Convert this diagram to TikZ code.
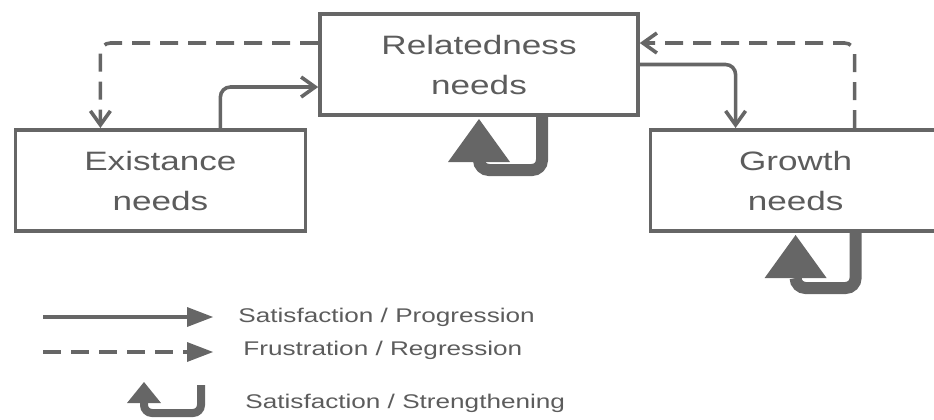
\documentclass[tikz,border=0pt]{standalone}
\usepackage{fontspec}
\setmainfont{Liberation Sans}[FakeStretch=1.32]
\usepackage{tikz}
\usetikzlibrary{arrows.meta, positioning}
\definecolor{ink}{HTML}{5C5C5C}
\definecolor{wire}{HTML}{666666}
\tikzset{
  box/.style     ={draw=wire, line width=1.8pt, minimum width=145pt,
                   minimum height=50.7pt, align=center, text=ink,
                   font=\fontsize{13.3}{20}\selectfont, inner sep=0pt},
  flow/.style    ={-{Straight Barb[length=7pt,width=10pt,line width=1.8pt]},
                   line width=1.8pt, draw=wire, rounded corners=5pt},
  flowd/.style   ={flow, dash pattern=on 9pt off 5pt},
  loopflow/.style={-{Triangle[length=21.5pt,width=31pt,line width=0pt]},
                   line width=6pt, draw=wire, rounded corners=5pt},
  legflow/.style ={-{Triangle[length=13pt,width=10pt,line width=0pt]},
                   line width=1.8pt, draw=wire},
  legflowd/.style={legflow, dash pattern=on 9pt off 5pt},
  legloop/.style ={-{Triangle[length=10.5pt,width=17pt,line width=0pt]},
                   line width=4pt, draw=wire, rounded corners=4pt},
  legtext/.style ={font=\fontsize{9.9}{12}\selectfont, text=ink,
                   inner sep=0pt, anchor=west}
}

\begin{document}
\begin{tikzpicture}[x=0.5pt, y=-0.5pt, node distance=5.5pt and 5.5pt]

  \useasboundingbox (0,0) rectangle (934,419);
  \clip (0,0) rectangle (934,419);

  % the three needs
  \node[box, minimum width=159pt] (rel) at (479,64.5) {Relatedness\\needs};
  \node[box, below left=of rel]                    (exist)  {Existance\\needs};
  \node[box, below right=5.5pt and 4.5pt of rel]   (growth) {Growth\\needs};

  \draw[flowd] ([yshift=10.75pt]rel.west)    -| ([xshift=-30pt]exist.north);
  \draw[flow]  ([xshift=30pt]exist.north)    |- ([yshift=-11.25pt]rel.west);
  \draw[flow]  (rel.east)                    -| ([xshift=-30pt]growth.north);
  \draw[flowd] ([xshift=29.5pt]growth.north) |- ([yshift=10.75pt]rel.east);

  \draw[loopflow] ([xshift=31.5pt]rel.south) -- ++(0,53)
                  -| ([yshift=-1pt]rel.south);
  \draw[loopflow] ([xshift=30pt]growth.south) -- ++(0,55)
                  -| ([yshift=-1pt]growth.south);

  % legend
  \coordinate (s1) at (43,317);
  \coordinate (e1) at (213,317);
  \coordinate (s2) at (43,352);
  \coordinate (e2) at (213,352);
  \coordinate (s3) at (201,385);
  \coordinate (e3) at (144,382);

  \node[legtext] (t1) at (238,317) {Satisfaction / Progression};
  \node[legtext] (t2) at (243,350) {Frustration / Regression};
  \node[legtext] (t3) at (245,403) {Satisfaction / Strengthening};

  \draw[legflow]  (s1) -- (e1);
  \draw[legflowd] (s2) -- (e2);
  \draw[legloop]  (s3) -- ++(0,28) -| (e3);

\end{tikzpicture}
\end{document}
